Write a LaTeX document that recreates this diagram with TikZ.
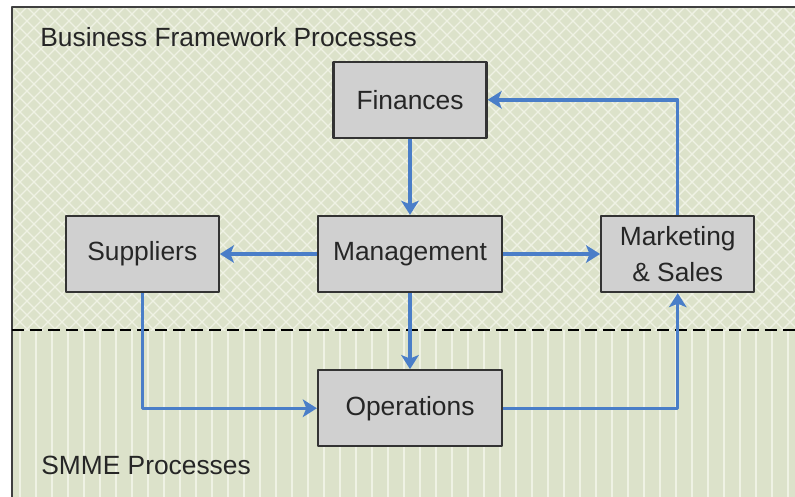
\documentclass[tikz,border=0pt]{standalone}
\usepackage{fontspec}
\setmainfont{Liberation Sans}
\usetikzlibrary{arrows.meta}
\usetikzlibrary{positioning}

\tikzset{
procbox/.style={draw=black!80, fill=boxgray, line width=1.3pt, minimum width=3.06cm, minimum height=1.52cm, inner sep=2pt, text=black!85, font=\fontsize{15}{20.4}\selectfont, align=center},
widebox/.style={procbox, minimum width=3.68cm},
flow/.style={color=flowblue, line width=2pt, -{Stealth[length=8pt,width=10pt,inset=2pt]}},
areatext/.style={text=black!85, font=\fontsize{15}{18}\selectfont, anchor=base west, inner sep=0pt}
}

\begin{document}
\begin{tikzpicture}[x=0.02cm, y=-0.02cm, line join=round]

\definecolor{bgplain}{HTML}{DCE2CA}
\definecolor{hatch}{HTML}{EFF2E4}
\definecolor{boxgray}{HTML}{D0D0D0}
\definecolor{flowblue}{HTML}{4A7EC8}

\useasboundingbox (0,0) rectangle (795,497);

\fill[bgplain] (12,7) rectangle (800,502);

\begin{scope}
\clip (12,7) rectangle (800,330);
\foreach \i in {-400,-386,...,1200}
{
\draw[hatch, line width=0.8pt] (\i,0)--++(340,340);
\draw[hatch, line width=0.8pt] (\i,0)--++(-340,340);
}
\end{scope}

\begin{scope}
\clip (12,330) rectangle (800,502);
\foreach \i in {20,36,...,800}
\draw[hatch, line width=1.1pt] (\i,330)--(\i,502);
\end{scope}

\draw[black!75, line width=1.3pt] (12,502)--(12,7)--(800,7);
\draw[black, line width=1.1pt, dash pattern=on 6.8pt off 3.4pt] (12,330)--(800,330);

\node[areatext] (bfp) at (40,47) {Business Framework Processes};
\node[areatext] (smme) at (41,474) {SMME Processes};

\node[widebox] (mgmt) at (410,254) {Management};
\node[procbox, above=1.52cm of mgmt] (fin) {Finances};
\node[procbox, left=1.94cm of mgmt] (sup) {Suppliers};
\node[procbox, right=1.94cm of mgmt] (mkt) {Marketing\\\& Sales};
\node[widebox, below=1.52cm of mgmt] (ops) {Operations};

\draw[flow] (fin.south)--(mgmt.north);
\draw[flow] (mgmt.west)--(sup.east);
\draw[flow] (mgmt.east)--(mkt.west);
\draw[flow] (mgmt.south)--(ops.north);
\draw[flow] (sup.south) |- (ops.west);
\draw[flow] (ops.east) -| (mkt.south);
\draw[flow] (mkt.north) |- (fin.east);

\end{tikzpicture}
\end{document}
